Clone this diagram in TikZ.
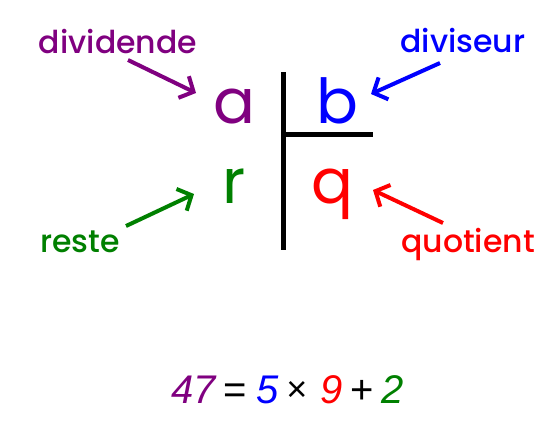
\documentclass[tikz,border=0pt]{standalone}
\usepackage{fontspec}
\setmainfont{Poppins}[UprightFont=* Medium]
\newfontfamily\letterfont{Poppins}
\newfontfamily\eqfont{Liberation Sans}
\usetikzlibrary{arrows.meta}
\definecolor{cpurple}{RGB}{128,0,128}
\definecolor{cblue}{RGB}{0,0,255}
\definecolor{cgreen}{RGB}{0,128,0}
\definecolor{cred}{RGB}{255,0,0}
\begin{document}
\begin{tikzpicture}[x=1pt,y=-1pt,
  lbl/.style={font=\fontsize{31.5}{34}\selectfont, inner sep=0pt, anchor=base},
  letter/.style={font=\letterfont\fontsize{62}{64}\selectfont, inner sep=0pt, anchor=base},
  arr/.style={line width=4pt, -{Straight Barb[length=11pt,width=24pt,line width=4pt]}},
  bar/.style={line width=5pt},
  eq/.style={font=\eqfont\fontsize{40}{44}\selectfont, inner sep=0pt, anchor=base}]
\useasboundingbox (0,0) rectangle (547,429);
\fill[white] (0,0) rectangle (547,429);
% labels
\node[lbl, text=cpurple] (divd) at (118,53) {dividende};
\node[lbl, text=cblue] (divs) at (463,52) {diviseur};
\node[lbl, text=cgreen] (rest) at (80,252) {reste};
\node[lbl, text=cred] (quot) at (468,252) {quotient};
% letters
\node[letter, text=cpurple] (a) at (234,123) {a};
\node[letter, text=cblue] (b) at (337,123) {b};
\node[letter, text=cgreen] (r) at (234,203) {r};
\node[letter, text=cred] (q) at (332,203) {q};
% division bars
\coordinate (vtop) at (283,72);
\coordinate (vbot) at (283,250);
\coordinate (hl) at (283,134);
\coordinate (hr) at (373,134);
\draw[bar] (vtop) -- (vbot);
\draw[bar] (hl) -- (hr);
% arrows
\coordinate (s1) at (128,60); \coordinate (e1) at (196,93);
\coordinate (s2) at (440,63); \coordinate (e2) at (371,94);
\coordinate (s3) at (126,226); \coordinate (e3) at (194,194);
\coordinate (s4) at (443,223); \coordinate (e4) at (373,190);
\draw[arr, cpurple] (s1) -- (e1);
\draw[arr, cblue] (s2) -- (e2);
\draw[arr, cgreen] (s3) -- (e3);
\draw[arr, cred] (s4) -- (e4);
% equation
\node[eq, text=cpurple] (n47) at (194,403) {\itshape 47};
\node[eq] (eqs) at (235,403) {=};
\node[eq, text=cblue] (n5) at (268,403) {\itshape 5};
\node[eq, font=\eqfont\fontsize{36}{38}\selectfont] (times) at (297,401) {×};
\node[eq, text=cred] (n9) at (332,403) {\itshape 9};
\node[eq] (plus) at (362,403) {+};
\node[eq, text=cgreen] (n2) at (393,403) {\itshape 2};
\end{tikzpicture}
\end{document}
